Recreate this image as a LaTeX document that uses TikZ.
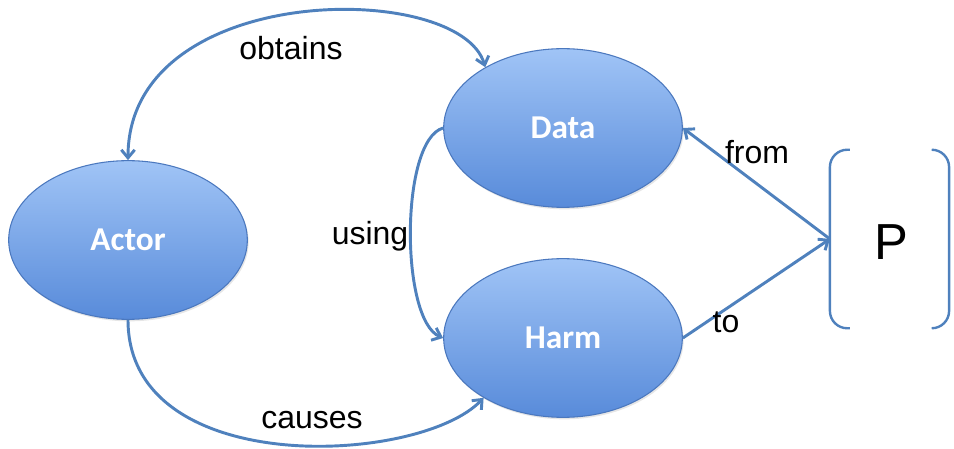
\documentclass[tikz,border=0pt]{standalone}
\usepackage{fontspec}
\setmainfont{Liberation Sans}
\newfontfamily\nodefont{Carlito}
\usetikzlibrary{arrows.meta,shapes.geometric,shadows}

\definecolor{ovaltop}{RGB}{160,196,246}
\definecolor{ovalbottom}{RGB}{88,139,218}
\definecolor{ovaledge}{RGB}{75,120,190}
\definecolor{linkblue}{RGB}{79,129,189}

\begin{document}
\begin{tikzpicture}[x=0.75pt, y=-0.75pt,
	oval/.style={ellipse, draw=ovaledge, line width=0.8pt, top color=ovaltop, bottom color=ovalbottom,
		minimum width=179pt, minimum height=119pt, inner sep=0pt, text=white,
		font=\nodefont\bfseries\fontsize{25}{29}\selectfont,
		drop shadow={opacity=0.2, shadow xshift=1pt, shadow yshift=-1.5pt}},
	link/.style={draw=linkblue, line width=2.2pt, -{Straight Barb[length=6pt, width=10pt]}},
	lbl/.style={font=\fontsize{24}{28}\selectfont, inner sep=0pt},
	bracket/.style={draw=linkblue, line width=1.8pt, rounded corners=13pt}]
	
	\useasboundingbox (0, 0) rectangle (954, 449);
	
	\node[oval] (Actor) at (128, 240) {Actor};
	\node[oval] (Data) at (563, 128) {Data};
	\node[oval] (Harm) at (563, 338) {Harm};
	
	\node[minimum width=89pt, minimum height=133.5pt, inner sep=0pt] (P) at (889.5, 239) {};
	\node[font=\fontsize{38}{44}\selectfont, inner sep=0pt] (Pname) at (891, 242) {P};
	\draw[bracket] ([xshift=15pt]P.north west) -- (P.north west) -- (P.south west) -- ([xshift=15pt]P.south west);
	\draw[bracket] ([xshift=-12pt]P.north east) -- (P.north east) -- (P.south east) -- ([xshift=-12pt]P.south east);
	
	\draw[link, {Straight Barb[length=6pt, width=10pt]}-{Straight Barb[length=6pt, width=10pt]}]
		(Actor.north) .. controls (128, -20) and (460, -20) .. (Data.142);
	\draw[link] (Actor.south) .. controls (128, 480) and (420, 465) .. (Harm.217);
	\draw[link] (Data.180) .. controls (400, 140) and (400, 320) .. (Harm.180);
	\draw[link] (P.west) -- (Data.east);
	\draw[link] (Harm.east) -- (P.west);
	
	\node[lbl] (obtains) at (291, 48) {obtains};
	\node[lbl] (using) at (370, 236) {using};
	\node[lbl] (causes) at (312, 420) {causes};
	\node[lbl] (from) at (757, 152) {from};
	\node[lbl] (to) at (726, 322) {to};
	
\end{tikzpicture}
\end{document}
